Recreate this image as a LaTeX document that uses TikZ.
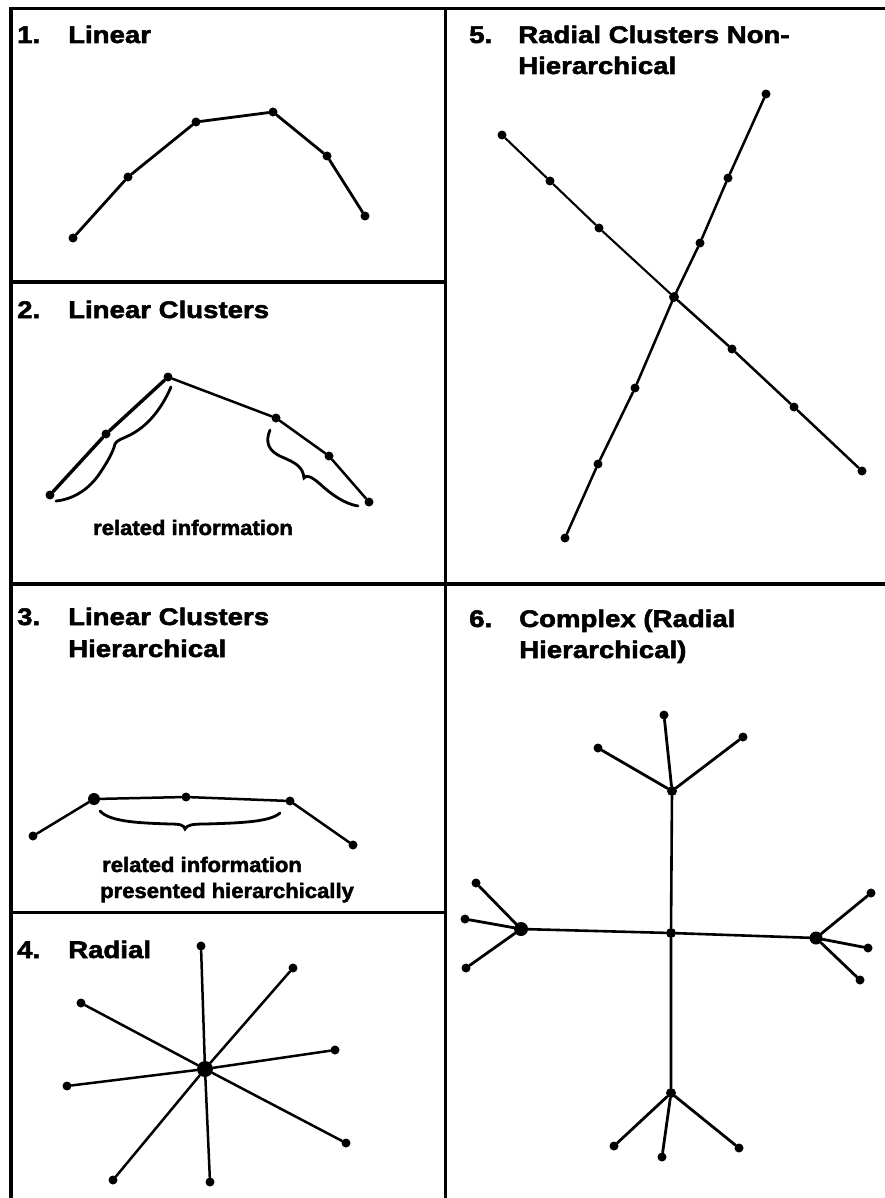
\documentclass[tikz,border=0pt]{standalone}
\usepackage{fontspec}
\setmainfont{Liberation Sans}
\newfontfamily\ttlfont{Liberation Sans}[FakeStretch=1.15, FakeBold=2.2]
\newfontfamily\lblfont{Liberation Sans}[FakeStretch=1.05, FakeBold=2.2]
\tikzset{
  frame/.style={line width=3.8pt, line join=miter},
  ttl/.style={font={\ttlfont\bfseries\fontsize{24}{30}\selectfont}, anchor=base west, inner sep=0pt},
  lbl/.style={font={\lblfont\bfseries\fontsize{21}{26}\selectfont}, anchor=base west, inner sep=0pt},
  dot/.style={circle, fill=black, draw=none, inner sep=0pt, minimum size=9pt},
  hub/.style={dot, minimum size=12pt},
  edge/.style={line width=2.5pt, line cap=round},
  brace/.style={line width=2.8pt, line cap=round}
}
\begin{document}
\begin{tikzpicture}[x=1pt,y=-1pt]
\useasboundingbox (0,0) rectangle (884,1198);
\fill[white] (0,0) rectangle (884,1198);
% frame
\draw[frame] (11,1215) -- (11,8.5) -- (900,8.5);
\draw[frame] (445.5,8.5) -- (445.5,1215);
\draw[frame] (11,282) -- (445.5,282);
\draw[frame] (11,584) -- (900,584);
\draw[frame] (11,912.5) -- (445.5,912.5);

% titles
\node[ttl] (n1) at (17,43) {1.};
\node[ttl] (t1) at (68,43) {Linear};
\node[ttl] (n2) at (17,318) {2.};
\node[ttl] (t2) at (68,318) {Linear Clusters};
\node[ttl] (n3) at (17,625) {3.};
\node[ttl] (t3a) at (68,625) {Linear Clusters};
\node[ttl] (t3b) at (68,657) {Hierarchical};
\node[ttl] (n4) at (17,958) {4.};
\node[ttl] (t4) at (68,958) {Radial};
\node[ttl] (n5) at (469,43) {5.};
\node[ttl] (t5a) at (518,43) {Radial Clusters Non-};
\node[ttl] (t5b) at (518,74) {Hierarchical};
\node[ttl] (n6) at (469,627) {6.};
\node[ttl] (t6a) at (519,627) {Complex (Radial};
\node[ttl] (t6b) at (519,658) {Hierarchical)};

% panel 1
\node[dot] (a1) at (73,238) {};
\node[dot] (a2) at (128,177) {};
\node[dot] (a3) at (196,122) {};
\node[dot] (a4) at (273,112) {};
\node[dot] (a5) at (327,156) {};
\node[dot] (a6) at (365,216) {};
\draw[edge, line width=2.8pt] (a1) -- (a2) -- (a3) -- (a4) -- (a5) -- (a6);

% panel 2
\node[dot] (b1) at (50,495) {};
\node[dot] (b2) at (106,434) {};
\node[dot] (b3) at (168,377) {};
\node[dot] (b4) at (276,418) {};
\node[dot] (b5) at (329,456) {};
\node[dot] (b6) at (369,502) {};
\draw[edge, line width=3.4pt] (b1) -- (b2) -- (b3);
\draw[edge] (b3) -- (b4) -- (b5) -- (b6);
\draw[brace] (171,387) .. controls (162,408) and (148,426) .. (130,435)
  .. controls (122,439) and (117,440) .. (115,444)
  .. controls (113,452) and (108,461) .. (100,473)
  .. controls (90,488) and (75,499) .. (56,501);
\draw[brace] (270,430) .. controls (265,442) and (268,451) .. (282,457)
  .. controls (296,463) and (303,467) .. (304,478)
  .. controls (306,474) and (312,477) .. (320,484)
  .. controls (332,495) and (345,504) .. (358,506);
\node[lbl] (l2) at (93,535) {related information};

% panel 3
\node[dot] (c1) at (33,836) {};
\node[hub] (c2) at (94,799) {};
\node[dot] (c3) at (186,797) {};
\node[dot] (c4) at (290,801) {};
\node[dot] (c5) at (353,845) {};
\draw[edge] (c1) -- (c2) -- (c3) -- (c4) -- (c5);
\draw[brace] (100,811) .. controls (110,822) and (140,823) .. (170,824)
  .. controls (180,824) and (184,825) .. (185,829)
  .. controls (187,825) and (192,824) .. (205,824)
  .. controls (240,823) and (270,822) .. (280,813);
\node[lbl] (l3a) at (102,872) {related information};
\node[lbl] (l3b) at (100,898) {presented hierarchically};

% panel 4
\node[dot, minimum size=16pt] (d0) at (205,1069) {};
\node[dot] (d1) at (201,946) {};
\node[dot] (d2) at (293,968) {};
\node[dot] (d3) at (335,1050) {};
\node[dot] (d4) at (346,1143) {};
\node[dot] (d5) at (210,1182) {};
\node[dot] (d6) at (113,1180) {};
\node[dot] (d7) at (67,1086) {};
\node[dot] (d8) at (81,1003) {};
\foreach \k in {1,...,8} \draw[edge] (d0) -- (d\k);

% panel 5
\node[dot, minimum size=10pt] (e0) at (674,297) {};
\node[dot] (e1) at (502,135) {};
\node[dot] (e2) at (550,181) {};
\node[dot] (e3) at (599,228) {};
\node[dot] (e4) at (732,349) {};
\node[dot] (e5) at (794,407) {};
\node[dot] (e6) at (862,471) {};
\node[dot] (f1) at (766,94) {};
\node[dot] (f2) at (728,178) {};
\node[dot] (f3) at (700,243) {};
\node[dot] (f4) at (635,388) {};
\node[dot] (f5) at (598,464) {};
\node[dot] (f6) at (565,538) {};
\draw[edge, line width=2.1pt] (e1) -- (e2) -- (e3) -- (e0);
\draw[edge] (e0) -- (e4) -- (e5) -- (e6);
\draw[edge] (f1) -- (f2) -- (f3) -- (e0) -- (f4) -- (f5) -- (f6);

% panel 6
\node[dot, minimum size=10pt] (g0) at (671,933) {};
\node[dot, minimum size=10pt] (gT) at (672,791) {};
\node[dot] (gT1) at (664,715) {};
\node[dot] (gT2) at (598,748) {};
\node[dot] (gT3) at (743,737) {};
\node[dot, minimum size=14pt] (gL) at (521,929) {};
\node[dot] (gL1) at (476,883) {};
\node[dot] (gL2) at (465,919) {};
\node[dot] (gL3) at (466,968) {};
\node[dot, minimum size=13pt] (gR) at (816,938) {};
\node[dot] (gR1) at (871,893) {};
\node[dot] (gR2) at (868,948) {};
\node[dot] (gR3) at (860,980) {};
\node[dot, minimum size=10pt] (gB) at (671,1093) {};
\node[dot] (gB1) at (614,1146) {};
\node[dot] (gB2) at (662,1157) {};
\node[dot] (gB3) at (739,1148) {};
\draw[edge, line width=2.6pt] (gT) -- (g0) -- (gB);
\draw[edge, line width=2.6pt] (gL) -- (g0) -- (gR);
\foreach \h in {T,L,R,B} {
  \foreach \k in {1,2,3} \draw[edge, line width=2.8pt] (g\h) -- (g\h\k);
}
\end{tikzpicture}
\end{document}
